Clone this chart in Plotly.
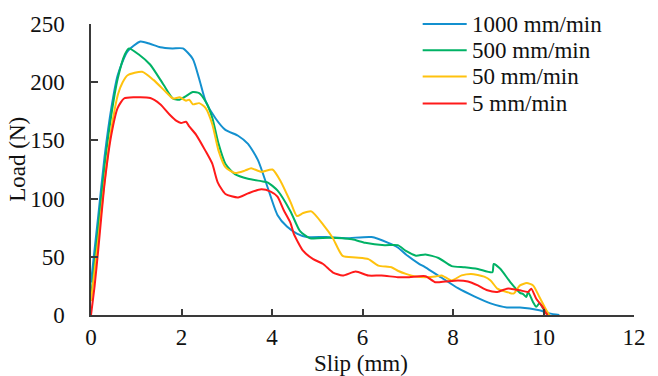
import plotly.graph_objects as go

# Slip (mm) / Load (N)
x_1000 = [0, 0.16, 0.30, 0.45, 0.59, 0.80, 1.09, 1.30, 1.53, 1.80, 2.03, 2.25, 2.39, 2.53, 2.75, 2.97,
          3.25, 3.47, 3.69, 3.90, 4.12, 4.33, 4.55, 4.77, 5.20, 5.63, 6.20, 6.57, 6.78, 6.96, 7.25,
          7.39, 7.75, 8.11, 8.47, 8.83, 9.19, 9.48, 9.91, 10.13, 10.35]
y_1000 = [28, 85, 136, 178, 206, 226, 235, 233, 230, 229, 229, 220, 203, 184, 169, 159,
          154, 147, 133, 110, 86, 76, 70, 67, 67, 66, 67, 62, 58, 52, 44,
          41, 32, 23, 16, 10, 6.5, 6.5, 4, 1.4, 0]

x_500 = [0, 0.16, 0.30, 0.45, 0.59, 0.75, 0.84, 1.05, 1.31, 1.60, 1.81, 1.96, 2.10, 2.25, 2.39, 2.53,
         2.68, 2.82, 2.97, 3.18, 3.47, 3.76, 3.90, 4.12, 4.41, 4.62, 4.84, 5.27, 5.77, 6.06, 6.49,
         6.78, 6.96, 7.18, 7.39, 7.68, 7.97, 8.26, 8.55, 8.87, 8.90, 9.05, 9.27, 9.48, 9.55, 9.62,
         9.66, 9.77, 9.84, 9.91, 10.06, 10.13]
y_500 = [15, 75, 128, 172, 203, 224, 229, 224, 215, 198, 186, 185, 188, 191.5, 190.7, 183.6,
         169.5, 147, 130, 121, 117, 115, 114, 107, 89, 72, 66, 66.4, 65, 62, 60,
         60, 55, 51, 52, 49, 42, 41, 39.5, 36.7, 43.8, 39.5, 28, 19, 18, 15.5,
         19.8, 11, 7, 10, 1.4, 0]

x_50 = [0, 0.16, 0.30, 0.45, 0.60, 0.70, 0.81, 1.13, 1.38, 1.67, 1.81, 1.96, 2.10, 2.17, 2.25, 2.39,
        2.53, 2.68, 2.82, 2.97, 3.18, 3.40, 3.54, 3.76, 4.01, 4.19, 4.41, 4.55, 4.69, 4.87, 5.13,
        5.34, 5.56, 5.85, 6.13, 6.35, 6.64, 6.78, 6.96, 7.18, 7.39, 7.61, 7.75, 7.97, 8.19, 8.40,
        8.69, 8.83, 8.98, 9.19, 9.34, 9.48, 9.63, 9.77, 9.91, 10.06, 10.13]
y_50 = [12, 65, 115, 160, 190, 200, 206, 209, 202, 191, 186, 187, 184, 185, 181, 182,
        178, 164, 141, 127, 122, 124, 126, 123, 125, 115, 97, 85, 87.6, 89, 77.7,
        66.4, 50.8, 49.4, 48, 42.4, 41, 38, 35.3, 33, 32.5, 33, 34, 29.7, 34, 35.3,
        33, 29.7, 22.6, 19.8, 18.4, 25.4, 27.4, 25.4, 15.5, 4.2, 0]

x_5 = [0, 0.08, 0.16, 0.30, 0.45, 0.59, 0.73, 0.95, 1.31, 1.53, 1.74, 1.89, 1.99, 2.10, 2.17, 2.32,
       2.53, 2.68, 2.80, 2.97, 3.25, 3.47, 3.76, 3.97, 4.12, 4.26, 4.41, 4.48, 4.69, 4.91, 5.13,
       5.34, 5.56, 5.85, 6.13, 6.42, 6.78, 7.03, 7.39, 7.61, 7.83, 8.11, 8.33, 8.55, 8.76, 8.98,
       9.19, 9.27, 9.48, 9.66, 9.73, 9.84, 9.98, 10.06, 10.09]
y_5 = [0, 25, 56, 113, 155, 178, 186, 187, 186.4, 181, 172, 166.7, 165, 166, 162, 155,
       141, 130, 114, 104, 101, 104.5, 108, 106, 101.7, 90, 79, 70, 55, 48, 43.8,
       36.7, 33.9, 37.3, 33.9, 33.9, 32.5, 32.5, 33.3, 28.2, 28.8, 29.7, 28.8, 25.4, 21.2, 19.8,
       22.6, 22.6, 21.2, 19.8, 22.6, 14, 7, 1.4, 0]

series_names = ["1000 mm/min", "500 mm/min", "50 mm/min", "5 mm/min"]
series_x = [x_1000, x_500, x_50, x_5]
series_y = [y_1000, y_500, y_50, y_5]
colors = ["#1390CF", "#00B265", "#FFC20E", "#FF1A1A"]

x_ticks = [0, 2, 4, 6, 8, 10, 12]
y_ticks = [0, 50, 100, 150, 200, 250]

FONT = "Liberation Serif, Times New Roman, serif"
FS = 23

fig = go.Figure()
for name, xs, ys, c in zip(series_names, series_x, series_y, colors):
    fig.add_trace(go.Scatter(x=xs, y=ys, mode="lines", name=name, showlegend=False,
                             line=dict(color=c, width=2, shape="spline", smoothing=0.6)))

axis_common = dict(showgrid=False, zeroline=False, showline=True, linecolor="#3a3a3a",
                   linewidth=1.5, ticks="inside", tickcolor="#3a3a3a", tickwidth=1.5,
                   tickfont=dict(family=FONT, size=FS, color="#111"))

# Legend drawn in paper coordinates (line sample + label), matching the reference layout
L, R, T, B = 91, 646, 20, 315
def px_x(p):
    return (p - L) / (R - L)
def px_y(p):
    return (B - p) / (B - T)

legend_rows = [20, 46.7, 73.3, 100.7]
shapes = []
annotations = []
for name, c, row in zip(series_names, colors, legend_rows):
    shapes.append(dict(type="line", xref="paper", yref="paper",
                       x0=px_x(430), x1=px_x(475), y0=px_y(row), y1=px_y(row),
                       line=dict(color=c, width=2)))
    annotations.append(dict(text=name, x=px_x(478), y=px_y(row), xref="paper", yref="paper",
                            xanchor="left", yanchor="middle", showarrow=False,
                            font=dict(family=FONT, size=FS, color="#111")))

annotations += [
    dict(text="Slip (mm)", x=px_x(367), y=px_y(364), xref="paper", yref="paper",
         xanchor="center", yanchor="middle", showarrow=False,
         font=dict(family=FONT, size=FS, color="#111")),
    dict(text="Load (N)", x=px_x(16), y=px_y(157), xref="paper", yref="paper",
         xanchor="center", yanchor="middle", textangle=-90, showarrow=False,
         font=dict(family=FONT, size=FS, color="#111")),
]

fig.update_layout(
    width=658, height=376,
    margin=dict(l=L, r=658 - R, t=T, b=376 - B),
    paper_bgcolor="white", plot_bgcolor="white",
    font=dict(family=FONT, size=FS, color="#111"),
    xaxis=dict(range=[0, 12], tickvals=x_ticks, ticklen=6, ticklabelstandoff=1, **axis_common),
    yaxis=dict(range=[0, 250], tickvals=y_ticks, ticklen=7, ticklabelstandoff=20, **axis_common),
    showlegend=False,
    shapes=shapes,
    annotations=annotations,
)

fig.write_html("out.html")
